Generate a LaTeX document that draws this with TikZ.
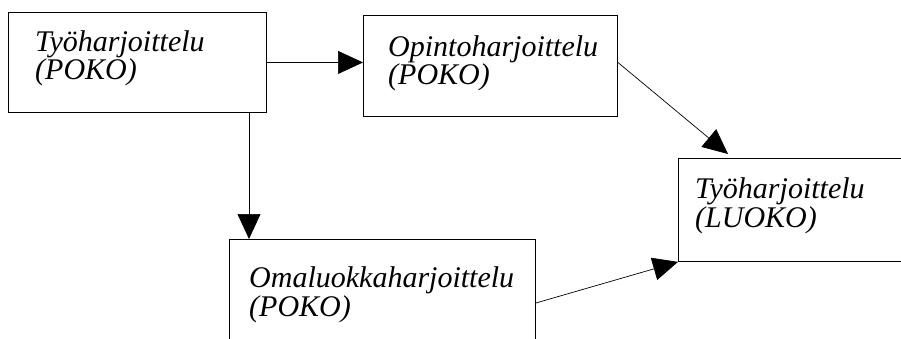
\documentclass[tikz,border=0pt]{standalone}
\usepackage{fontspec}
\setmainfont{Liberation Serif}
\usetikzlibrary{arrows.meta,calc}
\tikzset{
  box/.style={draw=black, line width=0.9pt, fill=white, inner sep=0pt, anchor=north west},
  % anchored on the baseline of the last line
  lbl/.style={anchor=base west, inner sep=0pt, align=left,
    font=\fontsize{30}{27}\selectfont\itshape},
  conn/.style={draw=black, line width=0.7pt, -{Triangle[length=25pt,width=23pt]}}
}
\begin{document}
\begin{tikzpicture}[x=1pt,y=-1pt]
\useasboundingbox (0,0) rectangle (901,339);
% boxes
\node[box, minimum width=258pt, minimum height=100pt] (b1) at (8,12) {};
\node[box, minimum width=254pt, minimum height=101pt] (b2) at (363,15) {};
\node[box, minimum width=240pt, minimum height=103pt] (b3) at (678,158) {};
\node[box, minimum width=306pt, minimum height=120pt] (b4) at (229,239) {};
% labels
\node[lbl] (t1) at (35,80) {Työharjoittelu\\(POKO)};
\node[lbl] (t2) at (388,85) {Opintoharjoittelu\\(POKO)};
\node[lbl] (t3) at (695,227) {Työharjoittelu\\(LUOKO)};
\node[lbl] (t4) at (249,316) {Omaluokkaharjoittelu\\(POKO)};
% connectors
\coordinate (s1) at (b1.east);
\coordinate (s2) at (b1.east -| b2.east);
\coordinate (s3) at ([xshift=241pt]b1.south west);
\coordinate (e3) at ([xshift=50pt,yshift=4pt]b3.north west);
\coordinate (s4) at ([yshift=-64pt]b4.north east);
\draw[conn] (s1) -- (s1 -| b2.west);
\draw[conn] (s3) -- (s3 |- b4.north);
\draw[conn] (s2) -- (e3);
\draw[conn] (s4) -- (b3.south west);
\end{tikzpicture}
\end{document}
